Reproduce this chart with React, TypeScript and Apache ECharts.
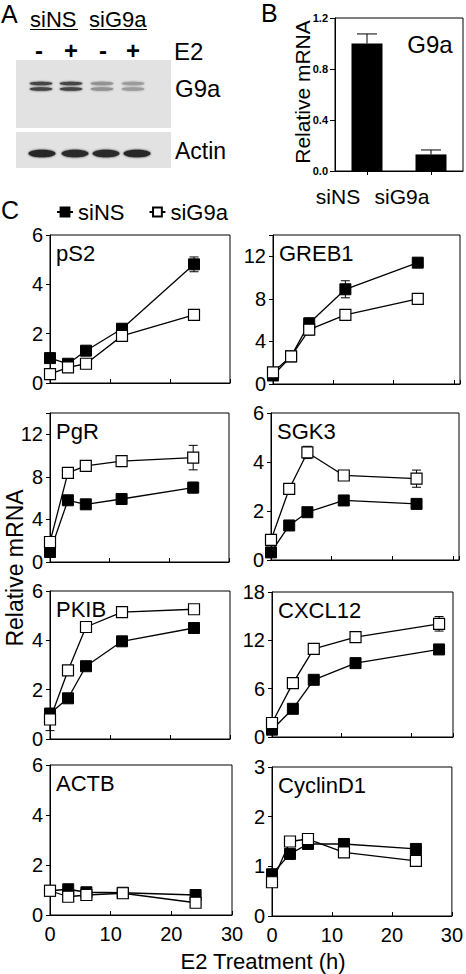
import React, { useEffect, useRef } from "react";
import * as echarts from "echarts";

// ---------- data ----------
const times = [0, 3, 6, 12, 24];

const pS2NS = [1.01, 0.78, 1.31, 2.2, 4.81];
const pS2G9a = [0.36, 0.63, 0.78, 1.91, 2.76];
const pS2NSErr = [0, 0, 0, 0, 0.3];
const pS2G9aErr = [0, 0, 0, 0, 0];

const greb1NS = [0.8, 2.6, 5.7, 8.9, 11.4];
const greb1G9a = [1.1, 2.6, 5.1, 6.5, 8.0];
const greb1NSErr = [0, 0, 0.5, 0.8, 0];
const greb1G9aErr = [0, 0, 0.5, 0, 0];

const pgrNS = [0.94, 5.8, 5.42, 5.92, 6.99];
const pgrG9a = [1.88, 8.37, 9.03, 9.47, 9.81];
const pgrNSErr = [0, 0, 0, 0, 0.5];
const pgrG9aErr = [0, 0, 0.4, 0, 1.15];

const sgk3NS = [0.31, 1.41, 1.95, 2.43, 2.29];
const sgk3G9a = [0.82, 2.9, 4.39, 3.45, 3.32];
const sgk3NSErr = [0, 0, 0, 0, 0];
const sgk3G9aErr = [0, 0, 0.25, 0, 0.35];

const pkibNS = [1.03, 1.65, 2.95, 3.96, 4.5];
const pkibG9a = [0.79, 2.78, 4.54, 5.14, 5.26];
const pkibNSErr = [0, 0, 0, 0, 0];
const pkibG9aErr = [0.45, 0, 0, 0, 0];

const cxcl12NS = [0.91, 3.5, 7.1, 9.17, 10.87];
const cxcl12G9a = [1.74, 6.69, 10.95, 12.4, 14.05];
const cxcl12NSErr = [0, 0, 0, 0, 0];
const cxcl12G9aErr = [0, 0, 0, 0, 0.9];

const actbNS = [0.97, 1.03, 0.91, 0.89, 0.8];
const actbG9a = [0.97, 0.73, 0.8, 0.87, 0.49];
const actbNSErr = [0, 0, 0, 0, 0];
const actbG9aErr = [0, 0, 0, 0, 0];

const ccnd1NS = [0.84, 1.25, 1.45, 1.45, 1.35];
const ccnd1G9a = [0.68, 1.5, 1.55, 1.28, 1.11];
const ccnd1NSErr = [0, 0, 0, 0, 0];
const ccnd1G9aErr = [0, 0, 0, 0, 0];

// panel B
const knockdownCats = ["siNS", "siG9a"];
const g9aMrna = [1.0, 0.13];
const g9aMrnaErr = [0.075, 0.035];

// panel A (blot band intensities, 0..1)
const laneLabels = ["-", "+", "-", "+"];
const g9aBandIntensity = [0.78, 0.78, 0.4, 0.35];
const actinBandIntensity = [0.93, 0.9, 0.9, 0.93];

const panelSpecs = [
  { title: "pS2", ns: pS2NS, g9a: pS2G9a, nsErr: pS2NSErr, g9aErr: pS2G9aErr, yMax: 6, yStep: 2, xMax: 30 },
  { title: "GREB1", ns: greb1NS, g9a: greb1G9a, nsErr: greb1NSErr, g9aErr: greb1G9aErr, yMax: 14, yStep: 4, xMax: 31 },
  { title: "PgR", ns: pgrNS, g9a: pgrG9a, nsErr: pgrNSErr, g9aErr: pgrG9aErr, yMax: 14, yStep: 4, xMax: 30 },
  { title: "SGK3", ns: sgk3NS, g9a: sgk3G9a, nsErr: sgk3NSErr, g9aErr: sgk3G9aErr, yMax: 6, yStep: 2, xMax: 31 },
  { title: "PKIB", ns: pkibNS, g9a: pkibG9a, nsErr: pkibNSErr, g9aErr: pkibG9aErr, yMax: 6, yStep: 2, xMax: 30 },
  { title: "CXCL12", ns: cxcl12NS, g9a: cxcl12G9a, nsErr: cxcl12NSErr, g9aErr: cxcl12G9aErr, yMax: 18, yStep: 6, xMax: 26 },
  { title: "ACTB", ns: actbNS, g9a: actbG9a, nsErr: actbNSErr, g9aErr: actbG9aErr, yMax: 6, yStep: 2, xMax: 30 },
  { title: "CyclinD1", ns: ccnd1NS, g9a: ccnd1G9a, nsErr: ccnd1NSErr, g9aErr: ccnd1G9aErr, yMax: 3, yStep: 1, xMax: 30 },
];

// ---------- layout ----------
const panelRects = [
  { left: 50, top: 235, width: 180, height: 148 },
  { left: 273, top: 235, width: 187, height: 149 },
  { left: 50, top: 413, width: 179, height: 149 },
  { left: 271, top: 413, width: 188, height: 147 },
  { left: 50, top: 591, width: 180, height: 148 },
  { left: 272, top: 592, width: 181, height: 145 },
  { left: 50, top: 765, width: 182, height: 150 },
  { left: 272, top: 767, width: 181, height: 149 },
];
const barRect = { left: 335, top: 18, width: 128, height: 153 };

const FONT = "'Liberation Sans', Arial, Helvetica, sans-serif";

function txt(text: string, x: number, y: number, size: number, extra: any = {}) {
  const align = extra.align || "left";
  return {
    type: "text",
    x,
    y,
    rotation: extra.rotation || 0,
    z: 10,
    style: {
      text,
      fill: "#000",
      font: `${extra.bold ? "bold " : ""}${size}px ${FONT}`,
      align,
      textAlign: align,
      verticalAlign: "middle",
      textVerticalAlign: "middle",
    },
  };
}

function gray(intensity: number) {
  const g = Math.round(228 - intensity * 205);
  return `rgb(${g},${g},${g})`;
}

function errorRender(halfCap: number, both: boolean) {
  return (params: any, api: any) => {
    const x = api.value(0);
    const lo = api.value(1);
    const hi = api.value(2);
    const p1 = api.coord([x, lo]);
    const p2 = api.coord([x, hi]);
    const st = { stroke: "#000", lineWidth: 1 };
    const children: any[] = [
      { type: "line", shape: { x1: p1[0], y1: p1[1], x2: p2[0], y2: p2[1] }, style: st },
      { type: "line", shape: { x1: p2[0] - halfCap, y1: p2[1], x2: p2[0] + halfCap, y2: p2[1] }, style: st },
    ];
    if (both) {
      children.push({ type: "line", shape: { x1: p1[0] - halfCap, y1: p1[1], x2: p1[0] + halfCap, y2: p1[1] }, style: st });
    }
    return { type: "group", children };
  };
}

function buildOption() {
  const grid: any[] = [];
  const xAxis: any[] = [];
  const yAxis: any[] = [];
  const series: any[] = [];

  panelSpecs.forEach((p, i) => {
    const r = panelRects[i];
    grid.push({ ...r, show: true, borderColor: "#000", borderWidth: 1, backgroundColor: "transparent" });
    xAxis.push({
      gridIndex: i,
      type: "value",
      min: 0,
      max: p.xMax,
      interval: 10,
      axisLine: { show: true, onZero: false, lineStyle: { color: "#000", width: 1 } },
      axisTick: { show: true, inside: true, length: 4, lineStyle: { color: "#000" } },
      axisLabel: {
        show: i >= 6,
        fontSize: 20,
        color: "#000",
        margin: 9,
        fontFamily: FONT,
        formatter: (v: number) => (v % 10 === 0 ? String(v) : ""),
      },
      splitLine: { show: false },
    });
    yAxis.push({
      gridIndex: i,
      type: "value",
      min: 0,
      max: p.yMax,
      interval: p.yStep,
      axisLine: { show: true, lineStyle: { color: "#000", width: 1 } },
      axisTick: { show: true, inside: false, length: 4, lineStyle: { color: "#000" } },
      axisLabel: {
        fontSize: 20,
        color: "#000",
        margin: 7,
        fontFamily: FONT,
        formatter: (v: number) => (Math.abs(v % p.yStep) < 1e-9 ? String(v) : ""),
      },
      splitLine: { show: false },
    });

    const errData: number[][] = [];
    times.forEach((t, k) => {
      if (p.nsErr[k] > 0) errData.push([t, p.ns[k] - p.nsErr[k], p.ns[k] + p.nsErr[k]]);
      if (p.g9aErr[k] > 0) errData.push([t, p.g9a[k] - p.g9aErr[k], p.g9a[k] + p.g9aErr[k]]);
    });
    series.push({
      type: "custom",
      name: "err" + i,
      xAxisIndex: i,
      yAxisIndex: i,
      z: 1,
      silent: true,
      renderItem: errorRender(4.5, true),
      encode: { x: 0, y: [1, 2] },
      data: errData,
    });
    series.push({
      type: "line",
      name: "siNS",
      xAxisIndex: i,
      yAxisIndex: i,
      z: 2,
      symbol: "rect",
      symbolSize: 11,
      showAllSymbol: true,
      lineStyle: { color: "#000", width: 1.3 },
      itemStyle: { color: "#000", borderColor: "#000", borderWidth: 1 },
      emphasis: { disabled: true },
      data: times.map((t, k) => [t, p.ns[k]]),
    });
    series.push({
      type: "line",
      name: "siG9a",
      xAxisIndex: i,
      yAxisIndex: i,
      z: 3,
      symbol: "rect",
      symbolSize: 11,
      showAllSymbol: true,
      lineStyle: { color: "#000", width: 1.3 },
      itemStyle: { color: "#fff", borderColor: "#000", borderWidth: 1.2 },
      emphasis: { disabled: true },
      data: times.map((t, k) => [t, p.g9a[k]]),
    });
  });

  // panel B
  const bi = panelSpecs.length;
  grid.push({ ...barRect, show: true, borderColor: "#000", borderWidth: 1, backgroundColor: "transparent" });
  xAxis.push({
    gridIndex: bi,
    type: "category",
    data: knockdownCats,
    axisLine: { show: true, lineStyle: { color: "#000", width: 1 } },
    axisTick: { show: true, alignWithLabel: true, length: 4, lineStyle: { color: "#000" } },
    axisLabel: {
      interval: 0,
      hideOverlap: false,
      fontSize: 21,
      color: "#000",
      margin: 15,
      fontFamily: FONT,
      padding: [0, 58, 0, 0],
    },
  });
  yAxis.push({
    gridIndex: bi,
    type: "value",
    min: 0,
    max: 1.2,
    interval: 0.4,
    axisLine: { show: true, lineStyle: { color: "#000", width: 1 } },
    axisTick: { show: true, length: 5, lineStyle: { color: "#000" } },
    axisLabel: {
      fontSize: 11,
      fontWeight: "bold",
      color: "#000",
      margin: 7,
      fontFamily: FONT,
      formatter: (v: number) => v.toFixed(1),
    },
    splitLine: { show: false },
  });
  series.push({
    type: "bar",
    name: "G9a mRNA",
    xAxisIndex: bi,
    yAxisIndex: bi,
    barWidth: 31,
    itemStyle: { color: "#000" },
    emphasis: { disabled: true },
    data: g9aMrna,
  });
  series.push({
    type: "custom",
    name: "G9a err",
    xAxisIndex: bi,
    yAxisIndex: bi,
    z: 1,
    silent: true,
    renderItem: errorRender(10, false),
    encode: { x: 0, y: [1, 2] },
    data: g9aMrna.map((v, k) => [k, v, v + g9aMrnaErr[k]]),
  });

  // ---------- graphics ----------
  const graphic: any[] = [];
  // panel letters
  graphic.push(txt("A", 1, 14, 25));
  graphic.push(txt("B", 261, 13, 25));
  graphic.push(txt("C", 1, 210, 25));

  // panel A blot
  graphic.push(txt("siNS", 30, 19, 22));
  graphic.push(txt("siG9a", 89, 19, 22));
  graphic.push({ type: "line", shape: { x1: 30, y1: 29.5, x2: 78, y2: 29.5 }, style: { stroke: "#000", lineWidth: 1 } });
  graphic.push({ type: "line", shape: { x1: 90, y1: 29.5, x2: 147, y2: 29.5 }, style: { stroke: "#000", lineWidth: 1 } });
  const signX = [39, 71, 103, 133];
  laneLabels.forEach((s, k) => graphic.push(txt(s, signX[k], 50, 24, { bold: true, align: "center" })));
  graphic.push(txt("E2", 174, 51, 24));
  graphic.push({ type: "rect", shape: { x: 16, y: 60, width: 155, height: 68 }, style: { fill: "#e2e2e2" }, z: 1 });
  graphic.push({ type: "rect", shape: { x: 16, y: 132, width: 155, height: 36 }, style: { fill: "#e2e2e2" }, z: 1 });
  const g9aLaneX = [41, 71, 102, 133];
  g9aBandIntensity.forEach((v, k) => {
    const c = gray(v);
    graphic.push({ type: "ellipse", shape: { cx: g9aLaneX[k], cy: 83.5, rx: 11.5, ry: 1.8 }, style: { fill: c, shadowBlur: 2, shadowColor: c }, z: 2 });
    graphic.push({ type: "ellipse", shape: { cx: g9aLaneX[k], cy: 89, rx: 11.5, ry: 1.8 }, style: { fill: c, shadowBlur: 2, shadowColor: c }, z: 2 });
  });
  const actinLaneX = [42, 75, 106, 137];
  actinBandIntensity.forEach((v, k) => {
    const c = gray(v);
    graphic.push({ type: "ellipse", shape: { cx: actinLaneX[k], cy: 153.5, rx: 13.5, ry: 3.8 }, style: { fill: c, shadowBlur: 2, shadowColor: c }, z: 2 });
  });
  graphic.push(txt("G9a", 175, 88, 24));
  graphic.push(txt("Actin", 175, 151, 23));

  // panel B texts
  graphic.push(txt("Relative mRNA", 302, 92, 21, { rotation: Math.PI / 2, align: "center" }));
  graphic.push(txt("G9a", 430, 44, 24, { align: "center" }));

  // panel C titles
  panelSpecs.forEach((p, i) => {
    const r = panelRects[i];
    graphic.push(txt(p.title, r.left + 6, r.top + 18, 22));
  });
  graphic.push(txt("Relative mRNA", 15, 568, 23, { rotation: Math.PI / 2, align: "center" }));
  graphic.push(txt("E2 Treatment (h)", 263, 961, 22, { align: "center" }));

  return {
    animation: false,
    textStyle: { fontFamily: FONT },
    legend: {
      data: ["siNS", "siG9a"],
      left: 51,
      top: 196,
      itemWidth: 16,
      itemHeight: 11,
      itemGap: 24,
      selectedMode: false,
      textStyle: { fontSize: 22, color: "#000", fontFamily: FONT },
    },
    grid,
    xAxis,
    yAxis,
    series,
    graphic,
  };
}

export default function App() {
  const ref = useRef<HTMLDivElement>(null);
  useEffect(() => {
    document.body.style.margin = "0";
    if (!ref.current) return;
    const chart = echarts.init(ref.current, undefined, { renderer: "svg" });
    chart.setOption(buildOption() as any);
    return () => chart.dispose();
  }, []);
  return <div ref={ref} style={{ width: 466, height: 974, background: "#fff" }} />;
}
